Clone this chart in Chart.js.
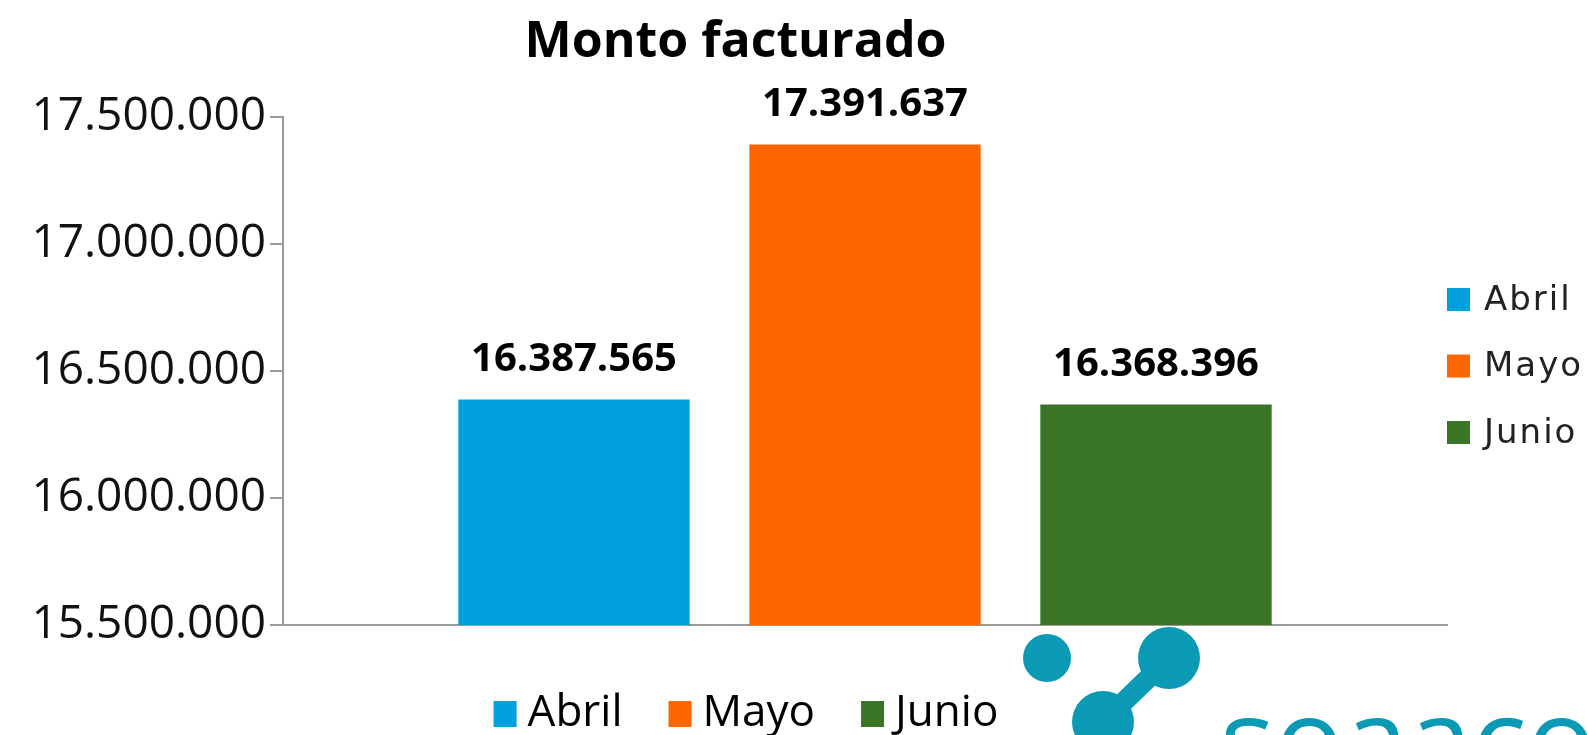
<!DOCTYPE html>
<html>
<head>
<meta charset="utf-8">
<script src="https://cdn.jsdelivr.net/npm/chart.js@4/dist/chart.umd.min.js"></script>
<style>
  html, body { margin: 0; padding: 0; background: #fff; overflow: hidden; }
  #wrap { width: 1587px; height: 735px; }
</style>
</head>
<body>
<div id="wrap"><canvas id="monto-chart" width="1587" height="735"></canvas></div>
<script>
var chartTitle = 'Monto facturado';
var months = ['Abril', 'Mayo', 'Junio'];
var amounts = [16387565, 17391637, 16368396];
var monthColors = ['#00A0DC', '#FF6600', '#3B7527'];
var yTicks = [15500000, 16000000, 16500000, 17000000, 17500000];
var logoText = 'soaaco';

function formatMonto(v) {
  return String(Math.round(v)).replace(/\B(?=(\d{3})+(?!\d))/g, '.');
}

// numbers over the bars
var barValues = {
  id: 'barValues',
  afterDatasetsDraw: function(chart) {
    var ctx = chart.ctx;
    ctx.save();
    ctx.font = 'bold 40px "Open Sans"';
    ctx.fillStyle = '#000';
    ctx.textAlign = 'center';
    ctx.textBaseline = 'middle';
    chart.data.datasets.forEach(function(ds, i) {
      var bar = chart.getDatasetMeta(i).data[0];
      ctx.fillText(formatMonto(ds.data[0]), bar.x, bar.y - 40);
    });
    ctx.restore();
  }
};

// the two legends: one at the right, one under the chart
var twoLegends = {
  id: 'twoLegends',
  afterDraw: function(chart) {
    var ctx = chart.ctx;
    var area = chart.chartArea;
    var sets = chart.data.datasets;
    ctx.save();
    ctx.textBaseline = 'middle';
    ctx.textAlign = 'left';

    // right
    ctx.font = '34px "DejaVu Sans"';
    ctx.letterSpacing = '2px';
    sets.forEach(function(ds, i) {
      var cy = 301 + i * 66.5;
      ctx.fillStyle = ds.backgroundColor;
      ctx.fillRect(area.right, cy - 13, 23, 23);
      ctx.fillStyle = '#222';
      ctx.fillText(ds.label, area.right + 37, cy);
    });
    ctx.letterSpacing = '0px';

    // bottom
    ctx.font = '44px "Open Sans"';
    var box = 23, gap = 11, itemGap = 46;
    var total = 0;
    sets.forEach(function(ds, i) {
      total += box + gap + ctx.measureText(ds.label).width;
      if (i < sets.length - 1) total += itemGap;
    });
    var x = 746 - total / 2;
    var cy = 714;
    sets.forEach(function(ds) {
      ctx.fillStyle = ds.backgroundColor;
      ctx.fillRect(x, cy - 13, box, 26);
      ctx.fillStyle = '#000';
      ctx.fillText(ds.label, x + box + gap, cy - 1);
      x += box + gap + ctx.measureText(ds.label).width + itemGap;
    });
    ctx.restore();
  }
};

// company logo, cut by the bottom edge
var logo = {
  id: 'logo',
  afterDraw: function(chart) {
    var ctx = chart.ctx;
    ctx.save();
    ctx.fillStyle = '#0A9AB5';
    ctx.strokeStyle = '#0A9AB5';
    ctx.beginPath(); ctx.arc(1047, 658, 24, 0, Math.PI * 2); ctx.fill();
    ctx.beginPath(); ctx.arc(1169, 658, 31, 0, Math.PI * 2); ctx.fill();
    ctx.beginPath(); ctx.arc(1103, 722, 31, 0, Math.PI * 2); ctx.fill();
    ctx.lineWidth = 20;
    ctx.beginPath(); ctx.moveTo(1103, 722); ctx.lineTo(1169, 658); ctx.stroke();
    ctx.font = '115px "Open Sans"';
    ctx.textBaseline = 'alphabetic';
    ctx.fillText(logoText, 1220, 781);
    ctx.restore();
  }
};

var ctx = document.getElementById('monto-chart').getContext('2d');
new Chart(ctx, {
  type: 'bar',
  data: {
    labels: [''],
    datasets: months.map(function(m, i) {
      return { label: m, data: [amounts[i]], backgroundColor: monthColors[i] };
    })
  },
  options: {
    responsive: false,
    animation: false,
    categoryPercentage: 0.75,
    barPercentage: 0.795,
    layout: { padding: { left: 24, right: 140, top: 0, bottom: 110 } },
    plugins: {
      legend: { display: false },
      tooltip: { enabled: false },
      title: {
        display: true,
        text: chartTitle,
        color: '#000',
        font: { family: 'Open Sans', size: 50, weight: 'bold' },
        padding: { top: 13, bottom: 44 }
      }
    },
    scales: {
      x: {
        grid: { display: false },
        ticks: { display: false },
        border: { color: '#999', width: 2 },
        afterFit: function(s) { s.height = 0; }
      },
      y: {
        min: yTicks[0],
        max: yTicks[yTicks.length - 1],
        afterBuildTicks: function(s) {
          s.ticks = yTicks.map(function(v) { return { value: v }; });
        },
        ticks: {
          color: '#111',
          padding: 4,
          font: { family: 'Open Sans', size: 46 },
          callback: function(v) { return formatMonto(v); }
        },
        grid: { drawOnChartArea: false, drawTicks: true, tickLength: 13, color: '#999', lineWidth: 2 },
        border: { color: '#999', width: 2 },
        afterFit: function(s) { s.width = 259; }
      }
    }
  },
  plugins: [barValues, twoLegends, logo]
});
</script>
</body>
</html>
